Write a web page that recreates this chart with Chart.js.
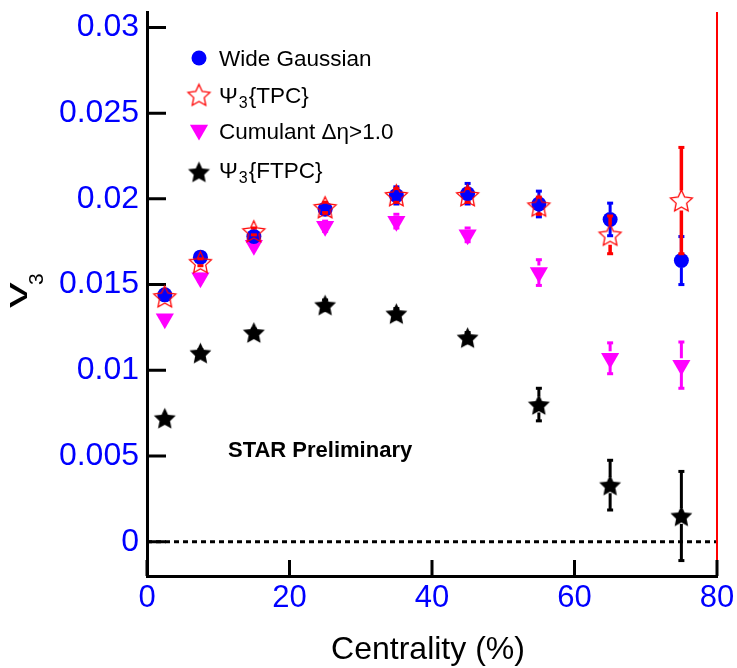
<!DOCTYPE html>
<html>
<head>
<meta charset="utf-8">
<script src="https://cdn.jsdelivr.net/npm/chart.js@4"></script>
<style>
  html, body { margin: 0; padding: 0; background: #fff; }
  #wrap { width: 737px; height: 668px; }
</style>
</head>
<body>
<div id="wrap"><canvas id="v3Chart"></canvas></div>
<script>
// centrality bin centres (%)
var centrality = [2.5, 7.5, 15, 25, 35, 45, 55, 65, 75];

var wideGauss    = [0.0144, 0.0166, 0.0178, 0.0194, 0.0202, 0.0203, 0.0197, 0.0188, 0.0164];
var wideGaussErr = [0.0001, 0.0001, 0.0002, 0.0003, 0.0005, 0.0006, 0.00075, 0.00095, 0.0014];

var psiTPC    = [0.0143, 0.0163, 0.0181, 0.0195, 0.0202, 0.0202, 0.0196, 0.0179, 0.0199];
var psiTPCErr = [0.0001, 0.0002, 0.0002, 0.0003, 0.0004, 0.0004, 0.0005, 0.0011, 0.0031];

var cumulant    = [0.0130, 0.0154, 0.0173, 0.0184, 0.0187, 0.0179, 0.0157, 0.0107, 0.0103];
var cumulantErr = [0.0001, 0.0002, 0.0002, 0.0003, 0.0004, 0.0004, 0.00075, 0.0009, 0.00135];

var psiFTPC    = [0.0072, 0.0110, 0.0122, 0.0138, 0.0133, 0.0119, 0.0080, 0.0033, 0.0015];
var psiFTPCErr = [0.0001, 0.0002, 0.0002, 0.0003, 0.0003, 0.0003, 0.00095, 0.00145, 0.0026];

var xTicks = [0, 20, 40, 60, 80];
var xTickLabels = ['0', '20', '40', '60', '80'];
var yTicks = [0, 0.005, 0.01, 0.015, 0.02, 0.025, 0.03];
var yTickLabels = ['0', '0.005', '0.01', '0.015', '0.02', '0.025', '0.03'];

var FONT = '"Liberation Sans", Arial, sans-serif';


function makeStar(R, fill, stroke, lw) {
  var size = Math.ceil(2 * R + lw + 2);
  var c = document.createElement('canvas');
  c.width = size;
  c.height = size;
  var g = c.getContext('2d');
  var cx = size / 2, cy = size / 2 + R * 0.08;
  var r = R * 0.48;
  g.beginPath();
  for (var i = 0; i < 10; i++) {
    var rad = i % 2 === 0 ? R : r;
    var a = -Math.PI / 2 + i * Math.PI / 5;
    var px = cx + rad * Math.cos(a), py = cy + rad * Math.sin(a);
    if (i === 0) g.moveTo(px, py); else g.lineTo(px, py);
  }
  g.closePath();
  if (fill) { g.fillStyle = fill; g.fill(); }
  if (stroke) { g.strokeStyle = stroke; g.lineWidth = lw; g.stroke(); }
  return c;
}

var redStar = makeStar(11.5, null, '#ff0000', 1.3);
var blackStar = makeStar(11.5, '#000000', null, 0);

function pts(vals) {
  return centrality.map(function(x, i) { return { x: x, y: vals[i] }; });
}


// error bars, drawn just under each dataset's markers, with a gap at the marker
var errorBars = {
  id: 'errorBars',
  beforeDatasetDraw: function(chart, args) {
    var ds = chart.data.datasets[args.index];
    if (!ds.errors) return;
    var ctx = chart.ctx, xs = chart.scales.x, ys = chart.scales.y;
    ctx.save();
    ctx.strokeStyle = ds.errColor;
    ctx.fillStyle = ds.errColor;
    ctx.lineWidth = ds.errWidth;
    ds.data.forEach(function(p, i) {
      var e = ds.errors[i];
      var px = xs.getPixelForValue(p.x);
      var mid = ys.getPixelForValue(p.y);
      var top = ys.getPixelForValue(p.y + e);
      var bot = ys.getPixelForValue(p.y - e);
      if (mid - top < 3) return;
      if (mid - top > ds.errGap) {
        ctx.beginPath();
        ctx.moveTo(px, top); ctx.lineTo(px, mid - ds.errGap);
        ctx.moveTo(px, mid + ds.errGap); ctx.lineTo(px, bot);
        ctx.stroke();
      }
      ctx.fillRect(px - 3, top - 1.5, 6, 3);
      ctx.fillRect(px - 3, bot - 1.5, 6, 3);
    });
    ctx.restore();
  }
};


// zero line, right red edge, inward tick marks
var frame = {
  id: 'frame',
  beforeDatasetsDraw: function(chart) {
    var ctx = chart.ctx, a = chart.chartArea, xs = chart.scales.x, ys = chart.scales.y;
    ctx.save();

    var y0 = ys.getPixelForValue(0);
    ctx.strokeStyle = '#000';
    ctx.lineWidth = 3;
    ctx.setLineDash([5, 4]);
    ctx.beginPath();
    ctx.moveTo(a.left, y0);
    ctx.lineTo(a.right, y0);
    ctx.stroke();
    ctx.setLineDash([]);

    ctx.strokeStyle = '#ff0000';
    ctx.lineWidth = 2;
    ctx.beginPath();
    ctx.moveTo(a.right, a.top);
    ctx.lineTo(a.right, a.bottom);
    ctx.stroke();

    ctx.strokeStyle = '#000';
    ctx.lineWidth = 3;
    ctx.beginPath();
    yTicks.forEach(function(v) {
      var py = ys.getPixelForValue(v);
      ctx.moveTo(a.left, py);
      ctx.lineTo(a.left + 19, py);
    });
    xTicks.forEach(function(v) {
      var px = xs.getPixelForValue(v);
      ctx.moveTo(px, a.bottom);
      ctx.lineTo(px, a.bottom - 16);
    });
    ctx.stroke();
    ctx.restore();
  }
};


// legend, axis titles and label text
var annotations = {
  id: 'annotations',
  afterDraw: function(chart) {
    var ctx = chart.ctx;
    var drawPoint = Chart.helpers.drawPoint;
    ctx.save();

    // legend markers
    ctx.fillStyle = '#0000ff';
    ctx.strokeStyle = '#0000ff';
    drawPoint(ctx, { pointStyle: 'circle', radius: 7.5, rotation: 0, borderWidth: 0 }, 199, 58);
    drawPoint(ctx, { pointStyle: redStar, radius: 11, rotation: 0, borderWidth: 0 }, 199, 95);
    ctx.fillStyle = '#ff00ff';
    ctx.strokeStyle = '#ff00ff';
    drawPoint(ctx, { pointStyle: 'triangle', radius: 10.5, rotation: 180, borderWidth: 0 }, 199, 130);
    drawPoint(ctx, { pointStyle: blackStar, radius: 11, rotation: 0, borderWidth: 0 }, 199, 172);

    // legend text
    ctx.fillStyle = '#000';
    ctx.textBaseline = 'alphabetic';
    ctx.textAlign = 'left';
    ctx.font = '22.5px ' + FONT;
    ctx.fillText('Wide Gaussian', 219, 66);
    drawSub(ctx, 'Ψ', '3', '{TPC}', 219, 103);
    ctx.font = '22.5px ' + FONT;
    ctx.fillText('Cumulant Δη>1.0', 219, 139);
    drawSub(ctx, 'Ψ', '3', '{FTPC}', 219, 178);

    // preliminary tag
    ctx.font = 'bold 22px ' + FONT;
    ctx.fillText('STAR Preliminary', 228, 457);

    // x title
    ctx.font = '32px ' + FONT;
    ctx.textAlign = 'center';
    ctx.fillText('Centrality (%)', 428, 659);

    // y title, rotated v with subscript 3
    ctx.save();
    ctx.translate(27, 308);
    ctx.rotate(-Math.PI / 2);
    ctx.textAlign = 'left';
    ctx.save();
    ctx.scale(1.6, 1);
    ctx.font = '32px ' + FONT;
    ctx.fillText('v', 0, 0);
    ctx.restore();
    ctx.font = '21px ' + FONT;
    ctx.fillText('3', 23, 16);
    ctx.restore();

    ctx.restore();
  }
};

function drawSub(ctx, main, sub, rest, x, y) {
  ctx.font = '22.5px ' + FONT;
  ctx.fillText(main, x, y);
  var w = ctx.measureText(main).width;
  ctx.font = '16px ' + FONT;
  ctx.fillText(sub, x + w + 1, y + 5);
  var ws = ctx.measureText(sub).width;
  ctx.font = '22.5px ' + FONT;
  ctx.fillText(rest, x + w + ws + 2, y);
}


function buildChart() {
  var ctx = document.getElementById('v3Chart');

  new Chart(ctx, {
    type: 'scatter',
    data: {
      datasets: [{
        label: 'Wide Gaussian',
        data: pts(wideGauss),
        errors: wideGaussErr,
        errColor: '#0000ff', errWidth: 3, errGap: 7,
        pointStyle: 'circle',
        pointRadius: 7.5,
        pointBorderWidth: 0,
        backgroundColor: '#0000ff',
        borderColor: '#0000ff',
        order: 1
      }, {
        label: 'Ψ3{TPC}',
        data: pts(psiTPC),
        errors: psiTPCErr,
        errColor: '#ff0000', errWidth: 3.5, errGap: 10,
        pointStyle: redStar,
        pointRadius: 11,
        backgroundColor: 'rgba(0,0,0,0)',
        borderColor: '#ff0000',
        order: 0
      }, {
        label: 'Cumulant Δη>1.0',
        data: pts(cumulant),
        errors: cumulantErr,
        errColor: '#ff00ff', errWidth: 3, errGap: 7,
        pointStyle: 'triangle',
        pointRotation: 180,
        pointRadius: 10.5,
        pointBorderWidth: 0,
        backgroundColor: '#ff00ff',
        borderColor: '#ff00ff',
        order: 2
      }, {
        label: 'Ψ3{FTPC}',
        data: pts(psiFTPC),
        errors: psiFTPCErr,
        errColor: '#000000', errWidth: 3, errGap: 8,
        pointStyle: blackStar,
        pointRadius: 11,
        backgroundColor: '#000000',
        borderColor: '#000000',
        order: 3
      }]
    },
    options: {
      responsive: true,
      maintainAspectRatio: false,
      animation: false,
      events: [],
      layout: { padding: { left: 0, right: 20, top: 10, bottom: 0 } },
      plugins: {
        legend: { display: false },
        tooltip: { enabled: false }
      },
      scales: {
        x: {
          type: 'linear',
          min: 0,
          max: 80,
          afterBuildTicks: function(s) { s.ticks = xTicks.map(function(v) { return { value: v }; }); },
          afterFit: function(s) { s.height = 92; s.paddingLeft = 0; s.paddingRight = 0; },
          grid: { display: false, drawTicks: false },
          border: { display: true, color: '#000', width: 3 },
          ticks: {
            color: '#0000ff',
            font: { family: FONT, size: 31 },
            padding: 4,
            maxRotation: 0,
            autoSkip: false,
            callback: function(v, i) { return xTickLabels[i]; }
          }
        },
        y: {
          type: 'linear',
          min: -0.002,
          max: 0.0309,
          afterBuildTicks: function(s) { s.ticks = yTicks.map(function(v) { return { value: v }; }); },
          afterFit: function(s) { s.width = 147; s.paddingTop = 0; s.paddingBottom = 0; },
          grid: { display: false, drawTicks: false },
          border: { display: true, color: '#000', width: 3 },
          ticks: {
            color: '#0000ff',
            font: { family: FONT, size: 32 },
            padding: 8,
            autoSkip: false,
            callback: function(v, i) { return yTickLabels[i]; }
          }
        }
      }
    },
    plugins: [errorBars, frame, annotations]
  });
}

document.addEventListener('DOMContentLoaded', buildChart);
</script>
</body>
</html>
